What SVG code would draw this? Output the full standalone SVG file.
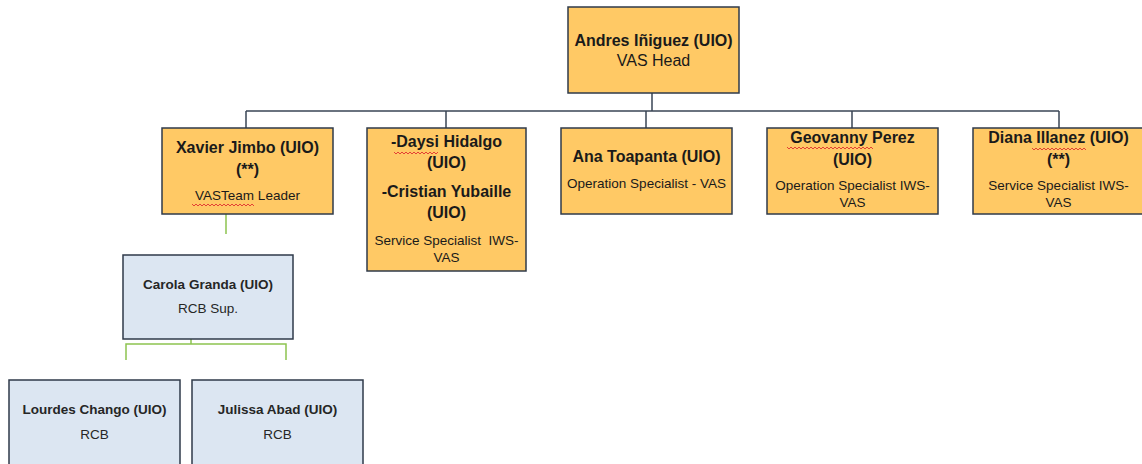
<svg xmlns="http://www.w3.org/2000/svg" width="1142" height="464" viewBox="0 0 1142 464">
<style>
.o{fill:#FFC965;stroke:#2F3A4A;stroke-width:1.5}
.b{fill:#DCE6F2;stroke:#2F3A4A;stroke-width:1.5}
text{font-family:"Liberation Sans",Arial,sans-serif;fill:#1a1a1a;text-anchor:middle}
.n{font-weight:bold;font-size:16px}
.r{font-size:13.5px}
.h{font-size:16px}
.bn{font-weight:bold;font-size:13.5px;fill:#262626}
.br{font-size:13.5px;fill:#262626}
.c{fill:none;stroke:#3A4656;stroke-width:1.5}
.g{fill:none;stroke:#8DC450;stroke-width:1.5}
.w{fill:none;stroke:#E03030;stroke-width:0.9}
</style>
<rect width="1142" height="464" fill="#fff"/>
<g id="connectors">
<path class="c" d="M652 93V111M246 111H1059M246 111V128M446 111V128M646 111V128M852 111V128M1059 111V128"/>
<path class="g" d="M226 200V234M191 321V344M126 360V344H286V360"/>
</g>
<g id="andres">
<rect class="o" x="568" y="7" width="171" height="86"/>
<text class="n" x="653.5" y="46">Andres Iñiguez (UIO)</text>
<text class="h" x="653.5" y="66">VAS Head</text>
</g>
<g id="xavier">
<rect class="o" x="162" y="128" width="171" height="86"/>
<text class="n" x="247.5" y="153">Xavier Jimbo (UIO)</text>
<text class="n" x="247.5" y="175">(**)</text>
<text class="r" x="247.5" y="200">VASTeam Leader</text>
<path class="w" d="M192 204l2 2 2-2 2 2 2-2 2 2 2-2 2 2 2-2 2 2 2-2 2 2 2-2 2 2 2-2 2 2 2-2 2 2 2-2 2 2 2-2 2 2 2-2 2 2 2-2 2 2 2-2 2 2 2-2 2 2 2-2 2 2"/>
</g>
<g id="daysi">
<rect class="o" x="367" y="128" width="159" height="143"/>
<text class="n" x="446.5" y="147">-Daysi Hidalgo</text>
<text class="n" x="446.5" y="168">(UIO)</text>
<text class="n" x="446.5" y="197">-Cristian Yubaille</text>
<text class="n" x="446.5" y="218">(UIO)</text>
<text class="r" x="446.5" y="245" xml:space="preserve">Service Specialist  IWS-</text>
<text class="r" x="446.5" y="262">VAS</text>
<path class="w" d="M394 152l2 2 2-2 2 2 2-2 2 2 2-2 2 2 2-2 2 2 2-2 2 2 2-2 2 2 2-2 2 2 2-2 2 2 2-2 2 2 2-2 2 2 2-2"/>
</g>
<g id="ana">
<rect class="o" x="561" y="128" width="171" height="86"/>
<text class="n" x="646.5" y="162">Ana Toapanta (UIO)</text>
<text class="r" x="646.5" y="188">Operation Specialist - VAS</text>
</g>
<g id="geovanny">
<rect class="o" x="767" y="128" width="171" height="86"/>
<text class="n" x="852.5" y="143">Geovanny Perez</text>
<text class="n" x="852.5" y="165">(UIO)</text>
<text class="r" x="852.5" y="190">Operation Specialist IWS-</text>
<text class="r" x="852.5" y="207">VAS</text>
<path class="w" d="M787 147l2 2 2-2 2 2 2-2 2 2 2-2 2 2 2-2 2 2 2-2 2 2 2-2 2 2 2-2 2 2 2-2 2 2 2-2 2 2 2-2 2 2 2-2 2 2 2-2 2 2 2-2 2 2 2-2 2 2 2-2 2 2 2-2 2 2 2-2 2 2 2-2 2 2 2-2 2 2 2-2 2 2 2-2 2 2"/>
</g>
<g id="diana">
<rect class="o" x="973" y="128" width="171" height="86"/>
<text class="n" x="1058.5" y="143">Diana Illanez (UIO)</text>
<text class="n" x="1058.5" y="165">(**)</text>
<text class="r" x="1058.5" y="190">Service Specialist IWS-</text>
<text class="r" x="1058.5" y="207">VAS</text>
<path class="w" d="M1032 148l2 2 2-2 2 2 2-2 2 2 2-2 2 2 2-2 2 2 2-2 2 2 2-2 2 2 2-2 2 2 2-2 2 2 2-2 2 2 2-2 2 2 2-2 2 2 2-2 2 2 2-2 2 2"/>
</g>
<g id="carola">
<rect class="b" x="123" y="255" width="170" height="84"/>
<text class="bn" x="208" y="289">Carola Granda (UIO)</text>
<text class="br" x="208" y="313">RCB Sup.</text>
</g>
<g id="lourdes">
<rect class="b" x="9" y="380" width="171" height="92"/>
<text class="bn" x="94.5" y="414">Lourdes Chango (UIO)</text>
<text class="br" x="94.5" y="439">RCB</text>
</g>
<g id="julissa">
<rect class="b" x="192" y="380" width="171" height="92"/>
<text class="bn" x="277.5" y="414">Julissa Abad (UIO)</text>
<text class="br" x="277.5" y="439">RCB</text>
</g>
</svg>
